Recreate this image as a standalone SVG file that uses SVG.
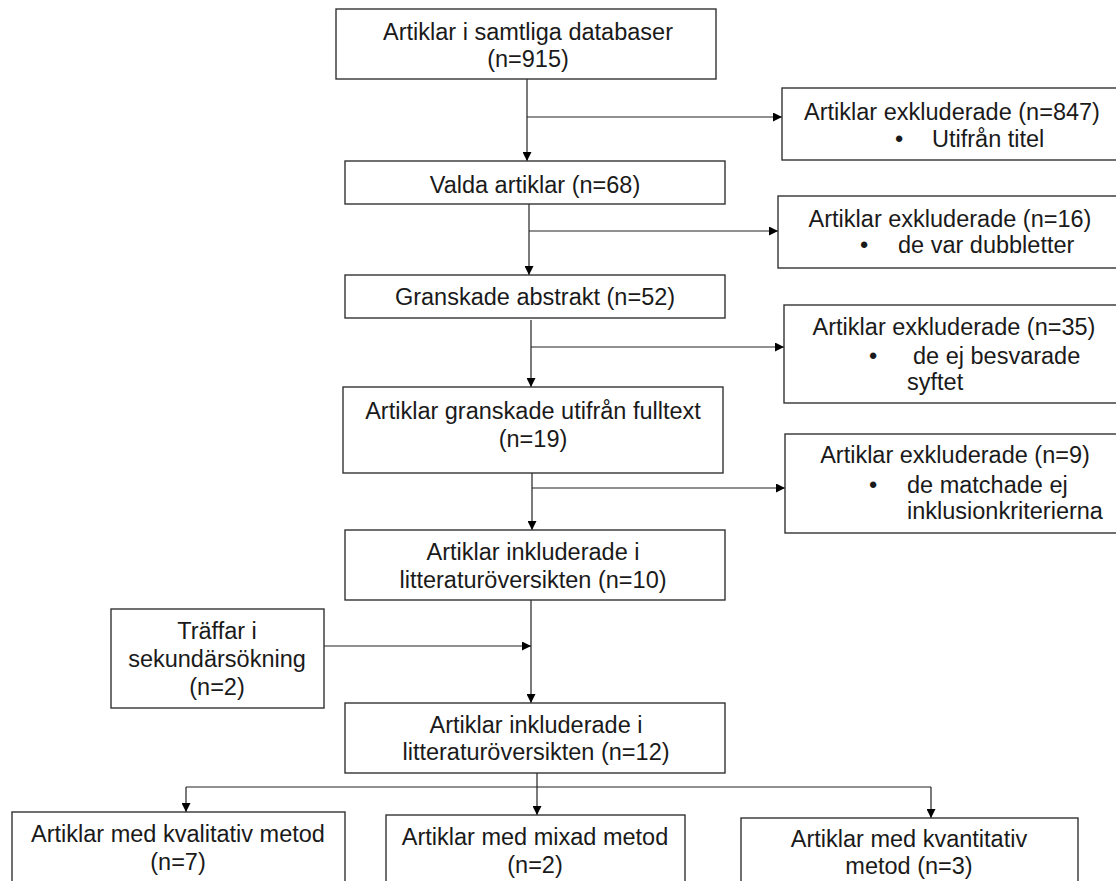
<svg xmlns="http://www.w3.org/2000/svg" width="1116" height="881" viewBox="0 0 1116 881">
<defs>
<marker id="arr" viewBox="0 0 10 10" refX="10" refY="5" markerWidth="9" markerHeight="9" markerUnits="userSpaceOnUse" orient="auto">
<path d="M0,0 L10,5 L0,10 Z" fill="#000"/>
</marker>
<style>
.box{fill:#fff;stroke:#333;stroke-width:1.4}
.t{font-family:"Liberation Sans",Arial,sans-serif;font-size:23.5px;fill:#1a1a1a}
.c{text-anchor:middle}
.ln{fill:none;stroke:#222;stroke-width:1.2}
.la{fill:none;stroke:#222;stroke-width:1.2;marker-end:url(#arr)}
</style>
</defs>
<rect width="1116" height="881" fill="#fff"/>
<g id="connectors">
<line class="la" x1="527" y1="79" x2="527" y2="161"/>
<line class="la" x1="527" y1="117" x2="782" y2="117"/>
<line class="la" x1="529" y1="204" x2="529" y2="275"/>
<line class="la" x1="529" y1="231" x2="778" y2="231"/>
<line class="la" x1="531" y1="320" x2="531" y2="387"/>
<line class="la" x1="531" y1="347" x2="784" y2="347"/>
<line class="la" x1="532" y1="473" x2="532" y2="530"/>
<line class="la" x1="532" y1="488" x2="785" y2="488"/>
<line class="la" x1="531" y1="600" x2="531" y2="703"/>
<line class="la" x1="324" y1="646" x2="531" y2="646"/>
<line class="la" x1="537" y1="773" x2="537" y2="815"/>
<line class="ln" x1="186" y1="787" x2="931" y2="787"/>
<line class="la" x1="186" y1="787" x2="186" y2="812"/>
<line class="la" x1="931" y1="787" x2="931" y2="818"/>
</g>
<g id="n1"><rect class="box" x="336" y="9" width="380" height="70"/>
<text class="t c" x="528" y="40">Artiklar i samtliga databaser</text>
<text class="t c" x="528" y="67">(n=915)</text></g>
<g id="n2"><rect class="box" x="345" y="161" width="380" height="43"/>
<text class="t c" x="535" y="193">Valda artiklar (n=68)</text></g>
<g id="n3"><rect class="box" x="345" y="275" width="380" height="43"/>
<text class="t c" x="535" y="305">Granskade abstrakt (n=52)</text></g>
<g id="n4"><rect class="box" x="343" y="387" width="380" height="86"/>
<text class="t c" x="533" y="419">Artiklar granskade utifrån fulltext</text>
<text class="t c" x="533" y="447">(n=19)</text></g>
<g id="n5"><rect class="box" x="345" y="530" width="380" height="70"/>
<text class="t c" x="533" y="560">Artiklar inkluderade i</text>
<text class="t c" x="533" y="588">litteraturöversikten (n=10)</text></g>
<g id="n6"><rect class="box" x="345" y="703" width="380" height="70"/>
<text class="t c" x="536" y="733">Artiklar inkluderade i</text>
<text class="t c" x="536" y="760">litteraturöversikten (n=12)</text></g>
<g id="s1"><rect class="box" x="111" y="609" width="213" height="99"/>
<text class="t c" x="217" y="639">Träffar i</text>
<text class="t c" x="217" y="667">sekundärsökning</text>
<text class="t c" x="217" y="695">(n=2)</text></g>
<g id="e1"><rect class="box" x="782" y="88" width="340" height="72"/>
<text class="t c" x="952" y="120">Artiklar exkluderade (n=847)</text>
<text class="t" x="895" y="147">•</text>
<text class="t" x="932" y="147">Utifrån titel</text></g>
<g id="e2"><rect class="box" x="778" y="196" width="344" height="72"/>
<text class="t c" x="950" y="227">Artiklar exkluderade (n=16)</text>
<text class="t" x="860" y="253">•</text>
<text class="t" x="898" y="253">de var dubbletter</text></g>
<g id="e3"><rect class="box" x="784" y="305" width="338" height="98"/>
<text class="t c" x="954" y="335">Artiklar exkluderade (n=35)</text>
<text class="t" x="869" y="364">•</text>
<text class="t" x="913" y="364">de ej besvarade</text>
<text class="t" x="907" y="390">syftet</text></g>
<g id="e4"><rect class="box" x="785" y="434" width="337" height="99"/>
<text class="t c" x="955" y="463">Artiklar exkluderade (n=9)</text>
<text class="t" x="869" y="493">•</text>
<text class="t" x="907" y="493">de matchade ej</text>
<text class="t" x="907" y="519">inklusionkriterierna</text></g>
<g id="b1"><rect class="box" x="12" y="812" width="333" height="90"/>
<text class="t c" x="178" y="842">Artiklar med kvalitativ metod</text>
<text class="t c" x="178" y="870">(n=7)</text></g>
<g id="b2"><rect class="box" x="386" y="815" width="299" height="90"/>
<text class="t c" x="535" y="845">Artiklar med mixad metod</text>
<text class="t c" x="535" y="873">(n=2)</text></g>
<g id="b3"><rect class="box" x="741" y="818" width="337" height="90"/>
<text class="t c" x="909" y="847">Artiklar med kvantitativ</text>
<text class="t c" x="909" y="874">metod (n=3)</text></g>
</svg>
